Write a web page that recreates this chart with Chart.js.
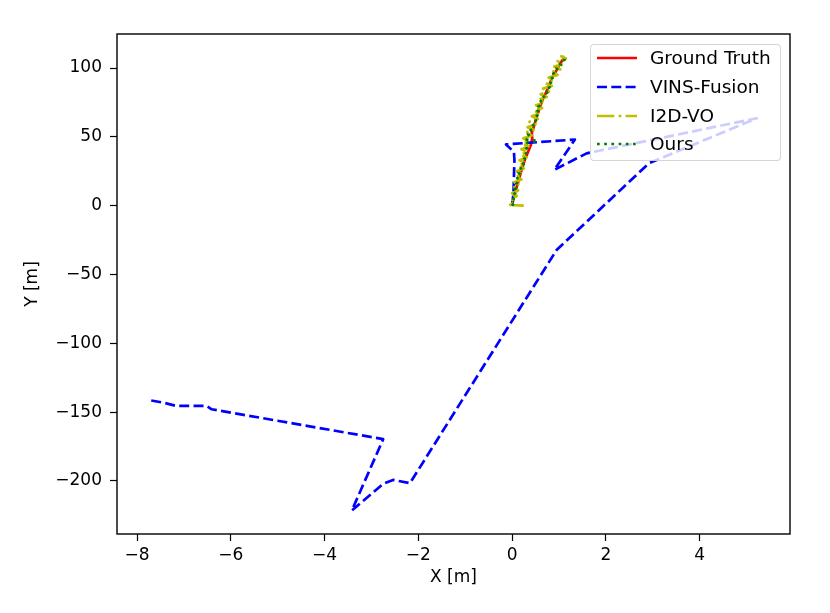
<!DOCTYPE html>
<html>
<head>
<meta charset="utf-8">
<script src="https://cdn.jsdelivr.net/npm/chart.js@4.4.1/dist/chart.umd.min.js"></script>
<style>
	body { margin: 0; background: #fff; }
	#wrap { position: relative; width: 830px; height: 613px; }
	#legend {
		position: absolute; left: 590px; top: 44px; width: 191px; height: 117px;
		background: rgba(255, 255, 255, 0.8); border: 1px solid rgba(204, 204, 204, 0.8);
		border-radius: 4px; box-sizing: border-box;
		font-family: 'DejaVu Sans', sans-serif; font-size: 18.5px; color: #000;
	}
	.row { position: absolute; left: 0; height: 20px; width: 190px; }
	.row svg { position: absolute; left: 5px; top: 0; }
	.row span { position: absolute; left: 59px; top: 0; line-height: 20px; white-space: nowrap; }
</style>
</head>
<body>
<div id="wrap">
	<canvas id="trajectory" width="830" height="613"></canvas>
	<div id="legend"></div>
</div>
<script>
const xTicks = [-8, -6, -4, -2, 0, 2, 4];
const yTicks = [-200, -150, -100, -50, 0, 50, 100];

const gtX = [0.00, 0.03, 0.07, 0.12, 0.17, 0.22, 0.28, 0.34, 0.40, 0.43, 0.42, 0.47, 0.52, 0.58, 0.64, 0.71, 0.77, 0.83, 0.89, 0.96, 1.02, 1.08, 1.12];
const gtY = [0, 5, 10, 16, 22, 28, 34, 39, 44, 49, 53, 58, 64, 70, 76, 81, 86, 91, 95, 99, 103, 106, 108];

const vinsX = [0.00, 0.03, 0.05, 0.04, -0.13, 1.34, 0.90, 1.59, 5.22, 2.92, 0.95, -2.18, -2.54, -2.75, -3.42, -2.75, -6.41, -6.52, -7.16, -7.45, -7.77];
const vinsY = [0, 9, 33, 39, 44.5, 48, 26, 38, 63.5, 30.8, -32.2, -201.6, -199.2, -202.1, -221.5, -169.6, -147.9, -145.5, -145.5, -143, -141.1];

const i2dX = [0.25, -0.04, 0.07, -0.03, 0.10, 0.00, 0.13, 0.02, 0.16, 0.05, 0.20, 0.07, 0.22, 0.10, 0.25, 0.13, 0.29, 0.16, 0.31, 0.18, 0.33, 0.20, 0.35, 0.22, 0.37, 0.24, 0.42, 0.28, 0.46, 0.33, 0.50, 0.37, 0.55, 0.42, 0.60, 0.47, 0.64, 0.51, 0.69, 0.56, 0.74, 0.61, 0.79, 0.66, 0.85, 0.72, 0.91, 0.78, 0.97, 0.84, 1.03, 0.90, 1.09, 0.97, 1.15, 1.05, 1.12];
const i2dY = [0, 0.5, 3, 5, 7, 9, 11, 13, 15, 17, 19, 21, 23, 25, 27, 29, 31, 33, 35, 37, 39, 41, 43, 45, 47, 49, 51, 53, 55, 57, 59, 61, 63, 65, 67, 69, 71, 73, 75, 77, 79, 81, 83, 85, 87, 89, 91, 93, 95, 97, 99, 101, 103, 105, 107, 108.5, 108];

const oursX = [0.00, 0.04, 0.00, 0.07, 0.03, 0.10, 0.06, 0.13, 0.09, 0.16, 0.11, 0.19, 0.14, 0.21, 0.17, 0.25, 0.20, 0.27, 0.23, 0.30, 0.25, 0.32, 0.28, 0.34, 0.55, 0.31, 0.38, 0.34, 0.42, 0.38, 0.46, 0.42, 0.51, 0.47, 0.56, 0.51, 0.60, 0.56, 0.65, 0.61, 0.70, 0.66, 0.75, 0.71, 0.80, 0.76, 0.86, 0.82, 0.92, 0.88, 0.98, 0.95, 1.04, 1.01, 1.12, 1.10];
const oursY = [0, 2, 4, 6, 8, 10, 12, 14, 16, 18, 20, 22, 24, 26, 28, 30, 32, 34, 36, 38, 40, 42, 44, 46, 47, 48, 50, 52, 54, 56, 58, 60, 62, 64, 66, 68, 70, 72, 74, 76, 78, 80, 82, 84, 86, 88, 90, 92, 94, 96, 98, 100, 102, 104, 106, 108];

const LW = 2.7;

function toPoints(xs, ys) {
	return xs.map((x, i) => ({ x: x, y: ys[i] }));
}

function minusSign(value) {
	return String(value).replace('-', '\u2212');
}

const seriesList = [
	{ label: 'Ground Truth', x: gtX, y: gtY, color: '#ff0000', dash: [], order: 4 },
	{ label: 'VINS-Fusion', x: vinsX, y: vinsY, color: '#0000ff', dash: [10, 4.3], order: 3 },
	{ label: 'I2D-VO', x: i2dX, y: i2dY, color: '#bfbf00', dash: [17.3, 4.3, 2.7, 4.3], order: 2 },
	{ label: 'Ours', x: oursX, y: oursY, color: '#008000', dash: [2.7, 4.5], order: 1 },
];

Chart.defaults.font.family = "'DejaVu Sans', sans-serif";
Chart.defaults.font.size = 17;
Chart.defaults.color = '#000';

// frame round the plot area, like the matplotlib spines
const frame = {
	id: 'frame',
	afterDraw(chart) {
		const { ctx, chartArea: a } = chart;
		ctx.save();
		ctx.strokeStyle = '#000';
		ctx.lineWidth = 1.4;
		ctx.strokeRect(a.left, a.top, a.right - a.left, a.bottom - a.top);
		ctx.restore();
	},
};

new Chart(document.getElementById('trajectory'), {
	type: 'scatter',
	data: {
		datasets: seriesList.map((s) => ({
			label: s.label,
			data: toPoints(s.x, s.y),
			showLine: true,
			borderColor: s.color,
			backgroundColor: s.color,
			borderWidth: LW,
			borderDash: s.dash,
			borderCapStyle: 'butt',
			borderJoinStyle: 'round',
			pointRadius: 0,
			tension: 0,
			order: s.order,
		})),
	},
	options: {
		responsive: false,
		animation: false,
		devicePixelRatio: 1,
		layout: { padding: { top: 34, right: 40, left: 0, bottom: 0 } },
		plugins: { legend: { display: false }, tooltip: { enabled: false } },
		scales: {
			x: {
				type: 'linear',
				min: -8.43,
				max: 5.93,
				afterBuildTicks: (axis) => { axis.ticks = xTicks.map((v) => ({ value: v })); },
				afterFit: (axis) => { axis.height = 79; },
				ticks: { callback: minusSign, padding: 4, maxRotation: 0 },
				grid: { drawOnChartArea: false, drawTicks: true, tickLength: 7, color: '#000', tickWidth: 1.2 },
				border: { display: false },
				title: { display: true, text: 'X [m]', padding: { top: 0, bottom: 25 } },
			},
			y: {
				type: 'linear',
				min: -238.5,
				max: 124.7,
				afterBuildTicks: (axis) => { axis.ticks = yTicks.map((v) => ({ value: v })); },
				afterFit: (axis) => { axis.width = 117; },
				ticks: { callback: minusSign, padding: 8 },
				grid: { drawOnChartArea: false, drawTicks: true, tickLength: 7, color: '#000', tickWidth: 1.2 },
				border: { display: false },
				title: { display: true, text: 'Y [m]', padding: { top: 22, bottom: 0 } },
			},
		},
	},
	plugins: [frame],
});

// legend box drawn in html so the text stays text
const legendEl = document.getElementById('legend');
const rowTops = [3, 32, 61, 89];
seriesList.forEach((s, i) => {
	const row = document.createElement('div');
	row.className = 'row';
	row.style.top = rowTops[i] + 'px';
	const dash = s.dash.length ? s.dash.join(' ') : 'none';
	row.innerHTML =
		'<svg width="42" height="20"><line x1="1" y1="10" x2="41" y2="10" stroke="' + s.color +
		'" stroke-width="' + LW + '" stroke-dasharray="' + dash + '"/></svg>' +
		'<span>' + s.label + '</span>';
	legendEl.appendChild(row);
});
</script>
</body>
</html>
